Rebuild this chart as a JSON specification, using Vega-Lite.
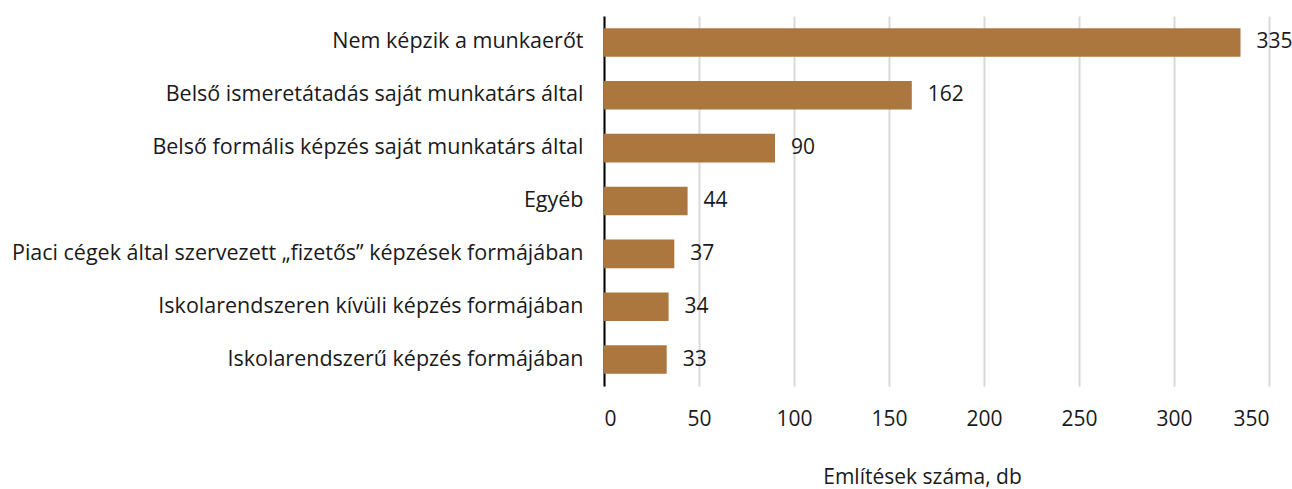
{
  "$schema": "https://vega.github.io/schema/vega-lite/v6.json",
  "autosize": "none",
  "width": 665,
  "height": 370,
  "padding": {"left": 604, "top": 16, "right": 23, "bottom": 103},
  "background": "white",
  "config": {"view": {"stroke": null}, "font": "Open Sans"},
  "data": {"values": [
    {"cat": "Nem képzik a munkaerőt", "v": 335},
    {"cat": "Belső ismeretátadás saját munkatárs által", "v": 162},
    {"cat": "Belső formális képzés saját munkatárs által", "v": 90},
    {"cat": "Egyéb", "v": 44},
    {"cat": "Piaci cégek által szervezett „fizetős” képzések formájában", "v": 37},
    {"cat": "Iskolarendszeren kívüli képzés formájában", "v": 34},
    {"cat": "Iskolarendszerű képzés formájában", "v": 33}
  ]},
  "encoding": {
    "y": {"field": "cat", "type": "nominal", "sort": null,
      "scale": {"paddingInner": 0.46, "paddingOuter": 0.23},
      "axis": {"title": null, "ticks": false, "labelPadding": 21, "labelFontSize": 21.5, "labelColor": "#1a1a1a", "labelLimit": 700, "domainColor": "#000000", "domainWidth": 2, "labelFont": "Open Sans"}},
    "x": {"field": "v", "type": "quantitative",
      "scale": {"domain": [0, 350], "nice": false},
      "axis": {"values": [0, 50, 100, 150, 200, 250, 300, 350], "title": "Említések száma, db", "titleFontSize": 21, "titleFontWeight": "normal", "titleColor": "#1a1a1a", "titleX": 318, "titleY": 91, "titleBaseline": "middle", "ticks": false, "domain": false, "labelPadding": 22, "labelFontSize": 21, "labelColor": "#1a1a1a", "gridColor": "#d9d9d9", "gridWidth": 2, "labelFont": "Open Sans", "titleFont": "Open Sans"}}
  },
  "layer": [
    {"mark": {"type": "bar", "color": "#AC773E"}},
    {"mark": {"type": "text", "align": "left", "dx": 16, "fontSize": 21, "color": "#1a1a1a", "font": "Open Sans"},
     "encoding": {"text": {"field": "v", "type": "quantitative"}}}
  ]
}
